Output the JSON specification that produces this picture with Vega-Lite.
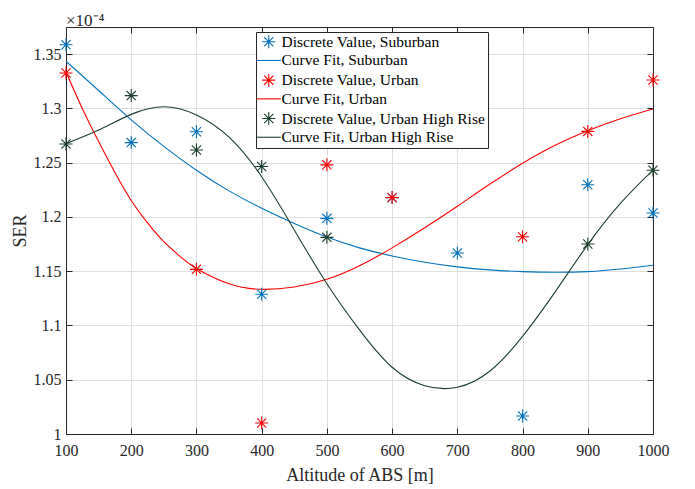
{
  "$schema": "https://vega.github.io/schema/vega-lite/v6.json",
  "width": 587,
  "height": 407,
  "autosize": "none",
  "padding": {"left": 66, "top": 27, "right": 42, "bottom": 55},
  "title": {"text": "×10⁻⁴", "anchor": "start", "frame": "group", "font": "Liberation Serif, Times New Roman, serif", "fontSize": 17, "fontWeight": "normal", "color": "#262626", "offset": -3},
  "datasets": {
    "pts": [
      {"x": 100, "y": 1.3587, "series": "Discrete Value, Suburban"},
      {"x": 200, "y": 1.2685, "series": "Discrete Value, Suburban"},
      {"x": 300, "y": 1.2785, "series": "Discrete Value, Suburban"},
      {"x": 400, "y": 1.1288, "series": "Discrete Value, Suburban"},
      {"x": 500, "y": 1.1987, "series": "Discrete Value, Suburban"},
      {"x": 600, "y": 1.2178, "series": "Discrete Value, Suburban"},
      {"x": 700, "y": 1.1667, "series": "Discrete Value, Suburban"},
      {"x": 800, "y": 1.0166, "series": "Discrete Value, Suburban"},
      {"x": 900, "y": 1.2296, "series": "Discrete Value, Suburban"},
      {"x": 1000, "y": 1.2036, "series": "Discrete Value, Suburban"},
      {"x": 100, "y": 1.3326, "series": "Discrete Value, Urban"},
      {"x": 300, "y": 1.1517, "series": "Discrete Value, Urban"},
      {"x": 400, "y": 1.0102, "series": "Discrete Value, Urban"},
      {"x": 500, "y": 1.248, "series": "Discrete Value, Urban"},
      {"x": 600, "y": 1.2178, "series": "Discrete Value, Urban"},
      {"x": 800, "y": 1.1817, "series": "Discrete Value, Urban"},
      {"x": 900, "y": 1.2788, "series": "Discrete Value, Urban"},
      {"x": 1000, "y": 1.3262, "series": "Discrete Value, Urban"},
      {"x": 100, "y": 1.2672, "series": "Discrete Value, Urban High Rise"},
      {"x": 200, "y": 1.3118, "series": "Discrete Value, Urban High Rise"},
      {"x": 300, "y": 1.2617, "series": "Discrete Value, Urban High Rise"},
      {"x": 400, "y": 1.2464, "series": "Discrete Value, Urban High Rise"},
      {"x": 500, "y": 1.1812, "series": "Discrete Value, Urban High Rise"},
      {"x": 700, "y": 1.27, "series": "Discrete Value, Urban High Rise"},
      {"x": 900, "y": 1.175, "series": "Discrete Value, Urban High Rise"},
      {"x": 1000, "y": 1.243, "series": "Discrete Value, Urban High Rise"}
    ],
    "fits": [
      {"x": 100, "y": 1.3435, "series": "Curve Fit, Suburban"},
      {"x": 150, "y": 1.3165, "series": "Curve Fit, Suburban"},
      {"x": 200, "y": 1.2895, "series": "Curve Fit, Suburban"},
      {"x": 250, "y": 1.265, "series": "Curve Fit, Suburban"},
      {"x": 300, "y": 1.243, "series": "Curve Fit, Suburban"},
      {"x": 350, "y": 1.224, "series": "Curve Fit, Suburban"},
      {"x": 400, "y": 1.208, "series": "Curve Fit, Suburban"},
      {"x": 450, "y": 1.194, "series": "Curve Fit, Suburban"},
      {"x": 500, "y": 1.1815, "series": "Curve Fit, Suburban"},
      {"x": 550, "y": 1.1715, "series": "Curve Fit, Suburban"},
      {"x": 600, "y": 1.164, "series": "Curve Fit, Suburban"},
      {"x": 650, "y": 1.1582, "series": "Curve Fit, Suburban"},
      {"x": 700, "y": 1.154, "series": "Curve Fit, Suburban"},
      {"x": 750, "y": 1.1512, "series": "Curve Fit, Suburban"},
      {"x": 800, "y": 1.1496, "series": "Curve Fit, Suburban"},
      {"x": 850, "y": 1.149, "series": "Curve Fit, Suburban"},
      {"x": 900, "y": 1.1496, "series": "Curve Fit, Suburban"},
      {"x": 950, "y": 1.152, "series": "Curve Fit, Suburban"},
      {"x": 1000, "y": 1.1555, "series": "Curve Fit, Suburban"},
      {"x": 100, "y": 1.3335, "series": "Curve Fit, Urban"},
      {"x": 125, "y": 1.3, "series": "Curve Fit, Urban"},
      {"x": 150, "y": 1.2695, "series": "Curve Fit, Urban"},
      {"x": 175, "y": 1.241, "series": "Curve Fit, Urban"},
      {"x": 200, "y": 1.2152, "series": "Curve Fit, Urban"},
      {"x": 225, "y": 1.1945, "series": "Curve Fit, Urban"},
      {"x": 250, "y": 1.1772, "series": "Curve Fit, Urban"},
      {"x": 275, "y": 1.1635, "series": "Curve Fit, Urban"},
      {"x": 300, "y": 1.1525, "series": "Curve Fit, Urban"},
      {"x": 350, "y": 1.1384, "series": "Curve Fit, Urban"},
      {"x": 400, "y": 1.1333, "series": "Curve Fit, Urban"},
      {"x": 450, "y": 1.1355, "series": "Curve Fit, Urban"},
      {"x": 500, "y": 1.1425, "series": "Curve Fit, Urban"},
      {"x": 550, "y": 1.155, "series": "Curve Fit, Urban"},
      {"x": 600, "y": 1.1715, "series": "Curve Fit, Urban"},
      {"x": 650, "y": 1.19, "series": "Curve Fit, Urban"},
      {"x": 700, "y": 1.2098, "series": "Curve Fit, Urban"},
      {"x": 750, "y": 1.2303, "series": "Curve Fit, Urban"},
      {"x": 800, "y": 1.2494, "series": "Curve Fit, Urban"},
      {"x": 850, "y": 1.266, "series": "Curve Fit, Urban"},
      {"x": 900, "y": 1.2794, "series": "Curve Fit, Urban"},
      {"x": 950, "y": 1.2905, "series": "Curve Fit, Urban"},
      {"x": 1000, "y": 1.2995, "series": "Curve Fit, Urban"},
      {"x": 100, "y": 1.2675, "series": "Curve Fit, Urban High Rise"},
      {"x": 150, "y": 1.28, "series": "Curve Fit, Urban High Rise"},
      {"x": 200, "y": 1.2945, "series": "Curve Fit, Urban High Rise"},
      {"x": 250, "y": 1.3015, "series": "Curve Fit, Urban High Rise"},
      {"x": 300, "y": 1.294, "series": "Curve Fit, Urban High Rise"},
      {"x": 350, "y": 1.2735, "series": "Curve Fit, Urban High Rise"},
      {"x": 400, "y": 1.237, "series": "Curve Fit, Urban High Rise"},
      {"x": 450, "y": 1.188, "series": "Curve Fit, Urban High Rise"},
      {"x": 500, "y": 1.1385, "series": "Curve Fit, Urban High Rise"},
      {"x": 550, "y": 1.096, "series": "Curve Fit, Urban High Rise"},
      {"x": 600, "y": 1.0615, "series": "Curve Fit, Urban High Rise"},
      {"x": 650, "y": 1.0445, "series": "Curve Fit, Urban High Rise"},
      {"x": 700, "y": 1.043, "series": "Curve Fit, Urban High Rise"},
      {"x": 750, "y": 1.058, "series": "Curve Fit, Urban High Rise"},
      {"x": 800, "y": 1.09, "series": "Curve Fit, Urban High Rise"},
      {"x": 850, "y": 1.131, "series": "Curve Fit, Urban High Rise"},
      {"x": 900, "y": 1.1745, "series": "Curve Fit, Urban High Rise"},
      {"x": 950, "y": 1.2125, "series": "Curve Fit, Urban High Rise"},
      {"x": 1000, "y": 1.2432, "series": "Curve Fit, Urban High Rise"}
    ]
  },
  "layer": [
    {
      "data": {"name": "fits"},
      "mark": {"type": "line", "interpolate": "natural", "strokeWidth": 1.1, "clip": true},
      "encoding": {
        "x": {"field": "x", "type": "quantitative",
          "scale": {"domain": [100, 1000], "nice": false, "zero": false},
          "axis": {"orient": "bottom", "values": [100, 200, 300, 400, 500, 600, 700, 800, 900, 1000], "format": "d", "title": "Altitude of ABS [m]", "grid": true, "tickSize": -6, "labelPadding": 14, "titlePadding": 8}},
        "y": {"field": "y", "type": "quantitative",
          "scale": {"domain": [1, 1.375], "nice": false, "zero": false},
          "axis": {"orient": "left", "values": [1, 1.05, 1.1, 1.15, 1.2, 1.25, 1.3, 1.35], "format": ".2~f", "title": "SER", "grid": true, "tickSize": -6, "labelPadding": 11, "titlePadding": 4}},
        "color": {"field": "series", "type": "nominal",
          "scale": {"domain": ["Discrete Value, Suburban", "Curve Fit, Suburban", "Discrete Value, Urban", "Curve Fit, Urban", "Discrete Value, Urban High Rise", "Curve Fit, Urban High Rise"],
                    "range": ["#0072BD", "#0072BD", "#FF0000", "#FF0000", "#1b3f2e", "#1b3f2e"]},
          "legend": {"title": null}}
      }
    },
    {
      "data": {"name": "pts"},
      "mark": {"type": "point", "filled": false, "size": 169, "strokeWidth": 1.1, "opacity": 1, "clip": false},
      "encoding": {
        "x": {"field": "x", "type": "quantitative",
          "axis": {"orient": "top", "values": [100, 200, 300, 400, 500, 600, 700, 800, 900, 1000], "labels": false, "title": null, "grid": false, "tickSize": -6}},
        "y": {"field": "y", "type": "quantitative",
          "axis": {"orient": "right", "values": [1, 1.05, 1.1, 1.15, 1.2, 1.25, 1.3, 1.35], "labels": false, "title": null, "grid": false, "tickSize": -6}},
        "color": {"field": "series", "type": "nominal", "legend": {"title": null}},
        "shape": {"field": "series", "type": "nominal",
          "scale": {"domain": ["Discrete Value, Suburban", "Curve Fit, Suburban", "Discrete Value, Urban", "Curve Fit, Urban", "Discrete Value, Urban High Rise", "Curve Fit, Urban High Rise"],
                    "range": ["M-1,0L1,0M0,-1L0,1M-0.707,-0.707L0.707,0.707M-0.707,0.707L0.707,-0.707", "M-1.85,0L1.85,0", "M-1,0L1,0M0,-1L0,1M-0.707,-0.707L0.707,0.707M-0.707,0.707L0.707,-0.707", "M-1.85,0L1.85,0", "M-1,0L1,0M0,-1L0,1M-0.707,-0.707L0.707,0.707M-0.707,0.707L0.707,-0.707", "M-1.85,0L1.85,0"]},
          "legend": {"title": null}}
      }
    }
  ],
  "resolve": {"axis": {"x": "independent", "y": "independent"}},
  "config": {
    "view": {"stroke": null},
    "font": "Liberation Serif, Times New Roman, serif",
    "axis": {
      "labelFont": "Liberation Serif, Times New Roman, serif", "labelFontSize": 16, "labelColor": "#262626",
      "titleFont": "Liberation Serif, Times New Roman, serif", "titleFontSize": 18, "titleFontWeight": "normal", "titleColor": "#262626",
      "domainColor": "#262626", "domainWidth": 1, "tickColor": "#262626", "tickWidth": 1,
      "gridColor": "#dfdfdf", "gridWidth": 1, "labelFlush": false, "labelOverlap": false
    },
    "legend": {
      "orient": "none", "legendX": 190, "legendY": 5,
      "fillColor": "#ffffff", "strokeColor": "#262626", "padding": 2,
      "labelFont": "Liberation Serif, Times New Roman, serif", "labelFontSize": 15.5, "labelColor": "#000000", "labelLimit": 400,
      "symbolSize": 169, "symbolStrokeWidth": 1.1, "rowPadding": 1.7, "symbolOffset": 3, "labelOffset": 5
    }
  }
}
